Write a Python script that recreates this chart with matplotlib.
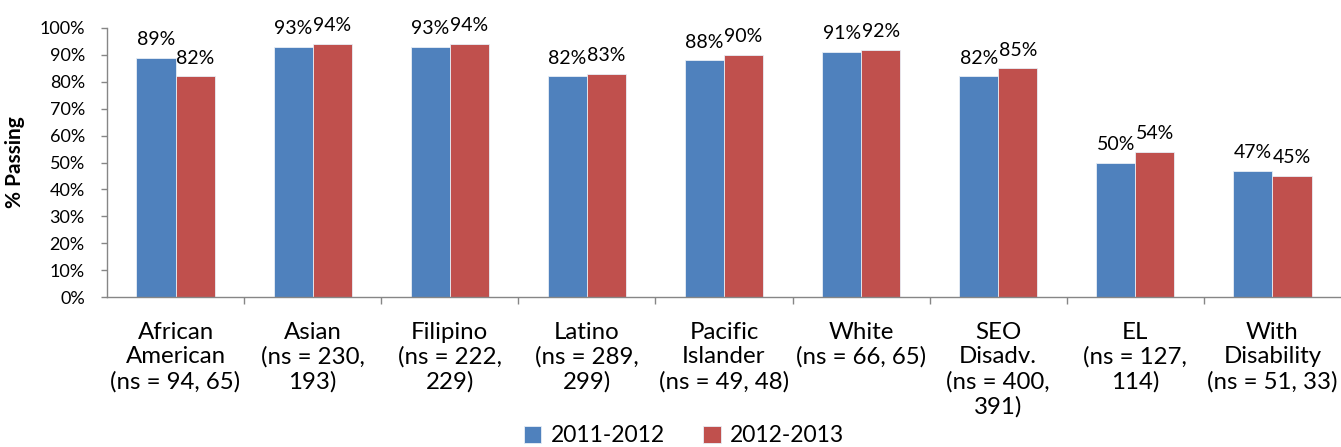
import matplotlib
matplotlib.use("Agg")
import matplotlib.pyplot as plt
import numpy as np
from matplotlib.ticker import FixedLocator, PercentFormatter

plt.rcParams['font.family'] = ['Lato', 'DejaVu Sans']

categories = [
    "African\nAmerican\n(ns = 94, 65)",
    "Asian\n(ns = 230,\n193)",
    "Filipino\n(ns = 222,\n229)",
    "Latino\n(ns = 289,\n299)",
    "Pacific\nIslander\n(ns = 49, 48)",
    "White\n(ns = 66, 65)",
    "SEO\nDisadv.\n(ns = 400,\n391)",
    "EL\n(ns = 127,\n114)",
    "With\nDisability\n(ns = 51, 33)",
]
series_names = ["2011-2012", "2012-2013"]
pass_2011_2012 = [89, 93, 93, 82, 88, 91, 82, 50, 47]
pass_2012_2013 = [82, 94, 94, 83, 90, 92, 85, 54, 45]
colors = ["#4F81BD", "#C0504D"]

W, H = 1341, 447
fig = plt.figure(figsize=(W / 100, H / 100), dpi=100)
ax = fig.add_axes([107 / W, (H - 297) / H, (W - 107) / W, 269 / H])

x = np.arange(len(categories))
bw = 0.285
for i, (vals, name, c) in enumerate(zip([pass_2011_2012, pass_2012_2013], series_names, colors)):
    offs = (i - 0.5) * bw
    bars = ax.bar(x + offs, vals, width=bw, color=c, edgecolor="#E8EEF6", linewidth=0.6, label=name)
    for b, v in zip(bars, vals):
        ax.annotate(f"{v}%", (b.get_x() + b.get_width() / 2, v), xytext=(0, 7),
                    textcoords="offset points", ha="center", va="bottom", fontsize=14)

ax.set_xlim(-0.5, len(categories) - 0.5)
ax.set_ylim(0, 100)
ax.yaxis.set_major_locator(FixedLocator(np.arange(0, 101, 10)))
ax.yaxis.set_major_formatter(PercentFormatter(decimals=0))
ax.tick_params(axis="y", labelsize=13, length=4, width=1, color="#868686", pad=12)

ax.set_xticks(x)
ax.set_xticklabels(categories, fontsize=17.3, linespacing=1.2, va="top")
ax.tick_params(axis="x", which="major", length=0, pad=18)
ax.set_xticks(np.arange(0.5, len(categories) - 0.5, 1), minor=True)
ax.tick_params(axis="x", which="minor", length=5, width=1, color="#868686")

for s in ["top", "right"]:
    ax.spines[s].set_visible(False)
for s in ["left", "bottom"]:
    ax.spines[s].set_color("#868686")
    ax.spines[s].set_linewidth(1)

ax.set_ylabel("% Passing", fontsize=15, fontweight="bold", labelpad=10)

fig.legend(loc="center", bbox_to_anchor=(684 / W, 1 - 436 / H), ncol=2, frameon=False,
           fontsize=16.5, handlelength=0.75, handleheight=0.75, handletextpad=0.4,
           columnspacing=1.7, borderaxespad=0)

fig.savefig("out.png", dpi=100)
